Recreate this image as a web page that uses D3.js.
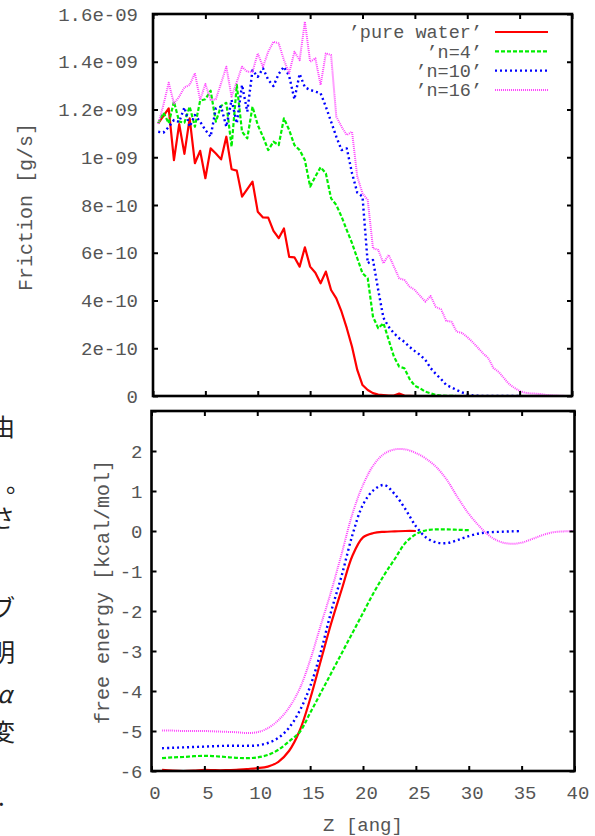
<!DOCTYPE html>
<html>
<head>
<meta charset="utf-8">
<script src="https://cdn.jsdelivr.net/npm/d3@7"></script>
<style>
  body { margin: 0; background: #fff; }
  svg { display: block; }
  .tick text { font-family: "Liberation Mono", "DejaVu Sans Mono", monospace; fill: #555; }
</style>
</head>
<body>
<svg id="chart" width="595" height="836"></svg>
<script>
// ---- data ----
var seriesNames = ["'pure water'", "'n=4'", "'n=10'", "'n=16'"];

// friction, z grid every 0.5 ang, values in 1e-10 g/s
var FRIC_UNIT = 1e-10;
var zFric = [0.5,1,1.5,2,2.5,3,3.5,4,4.5,5,5.5,6,6.5,7,7.5,8,8.5,9,9.5,10,
  10.5,11,11.5,12,12.5,13,13.5,14,14.5,15,15.5,16,16.5,17,17.5,18,18.5,19,19.5,20,
  20.5,21,21.5,22,22.5,23,23.5,24,24.5,25,25.5,26,26.5,27,27.5,28,28.5,29,29.5,30,
  30.5,31,31.5,32,32.5,33,33.5,34,34.5,35,35.5,36,36.5,37,37.5,38,38.5,39,39.5,40];

var fricWater = [11.42,11.73,12.05,9.88,11.39,10.14,11.63,9.75,10.27,9.12,
  10.37,10.16,9.91,10.86,9.50,9.44,8.35,8.67,8.98,7.72,
  7.48,7.47,6.92,6.61,7.02,5.83,5.81,5.42,6.23,5.42,
  5.16,4.72,5.21,4.44,4.09,3.53,2.84,2.06,1.09,0.46,
  0.25,0.12,0.06,0.04,0.02,0.02,0.10,0.02,0.01,0.00];
var fricN4 = [11.42,11.87,11.42,12.33,11.49,11.45,12.12,11.28,12.37,12.43,
  12.79,11.49,12.15,12.28,10.44,13.03,11.07,10.79,12.12,11.35,
  10.86,10.30,10.65,10.51,11.63,11.14,10.51,10.30,9.88,8.77,
  9.19,9.58,9.33,8.28,8.00,7.51,6.95,6.40,5.77,5.14,
  4.93,3.32,2.84,3.05,2.35,1.65,1.23,1.16,0.71,0.42,
  0.32,0.18,0.11,0.04,0.02,0.01,0.01,0,0,0];
var fricN10 = [11.07,11.03,11.27,11.56,11.48,12.09,11.28,11.77,11.49,11.14,
  10.86,12.05,12.12,11.28,12.40,11.42,13.03,11.91,13.65,13.37,
  13.73,13.24,12.98,13.49,13.79,13.40,12.43,13.49,12.93,12.82,
  12.75,12.68,12.12,11.49,10.86,10.30,10.37,9.33,8.52,8.35,
  5.56,5.70,4.44,3.27,2.90,2.63,2.42,2.27,2.05,1.88,
  1.72,1.51,1.17,0.92,0.71,0.46,0.36,0.25,0.15,0.08,
  0.02,0.01,0,0,0,0,0,0,0,0];
var fricN16 = [11.39,12.20,13.12,12.25,12.54,12.93,13.03,13.52,12.40,13.07,
  12.40,12.43,13.10,13.79,12.54,13.16,13.79,13.58,13.58,14.35,
  13.79,14.42,14.84,14.77,14.07,13.52,14.42,14.07,15.68,14.00,
  14.14,13.03,14.35,14.28,11.70,11.28,10.93,11.07,9.19,8.49,
  8.21,6.19,6.12,5.56,5.91,5.42,4.93,4.86,4.58,4.44,
  4.19,3.95,4.19,3.73,3.63,3.15,3.11,2.69,2.64,2.47,
  2.26,2.03,1.79,1.59,1.17,1.01,0.75,0.50,0.34,0.21,
  0.14,0.11,0.10,0.08,0.05,0.03,0.02,0.01,0,0];

// free energy [kcal/mol], z grid every 1 ang
var zEnergy = [1,2,3,4,5,6,7,8,9,10,11,12,13,14,15,16,17,18,19,20,
  21,22,23,24,25,26,27,28,29,30,31,32,33,34,35,36,37,38,39,40];
var energyWater = [-5.97,-5.99,-6.0,-5.99,-5.97,-5.98,-5.98,-5.97,-5.95,-5.93,
  -5.89,-5.77,-5.50,-5.0,-4.2,-3.25,-2.3,-1.45,-0.62,-0.16,
  -0.05,-0.02,-0.01,0,0];
var energyN4 = [-5.68,-5.66,-5.65,-5.63,-5.62,-5.63,-5.65,-5.67,-5.68,-5.66,
  -5.6,-5.47,-5.26,-5.03,-4.55,-4.05,-3.55,-3.05,-2.55,-2.05,
  -1.55,-1.1,-0.7,-0.3,-0.08,0.02,0.04,0.04,0.03,0.02];
var energyN10 = [-5.43,-5.42,-5.41,-5.40,-5.39,-5.38,-5.37,-5.37,-5.37,-5.36,
  -5.30,-5.17,-4.92,-4.5,-3.89,-3.03,-2.0,-1.1,-0.1,0.66,
  1.02,1.15,0.92,0.55,0.12,-0.17,-0.29,-0.3,-0.22,-0.13,
  -0.06,-0.03,-0.02,-0.01,0];
var energyN16 = [-4.99,-4.99,-5.0,-5.0,-5.0,-5.01,-5.02,-5.03,-5.05,-5.03,
  -4.93,-4.73,-4.42,-3.95,-3.23,-2.36,-1.5,-0.55,0.43,1.15,
  1.65,1.93,2.04,2.04,1.95,1.8,1.58,1.25,0.82,0.43,
  0.12,-0.13,-0.27,-0.32,-0.29,-0.2,-0.1,-0.03,-0.01,0];

// ticks
var zTicks = [0,5,10,15,20,25,30,35,40];
var fricTicks = [0,2e-10,4e-10,6e-10,8e-10,1e-9,1.2e-9,1.4e-9,1.6e-9];
var fricTickLabels = ["0","2e-10","4e-10","6e-10","8e-10","1e-09","1.2e-09","1.4e-09","1.6e-09"];
var energyTicks = [-6,-5,-4,-3,-2,-1,0,1,2,3];
var energyTickLabels = ["-6","-5","-4","-3","-2","-1","0","1","2",""];

// cut-off line ends of the page text at the left edge
var sideChars = ["由","。","さ","ブ","明","α","変","."];

// ---- styles ----
var lineStyles = [
  {color: "#ff0000", width: 2.2, dash: null},
  {color: "#00ee00", width: 2.2, dash: "4,2"},
  {color: "#0000ff", width: 2.4, dash: "2,3"},
  {color: "#ff44ff", width: 2, dash: "1,1"}
];
var MONO = "'Liberation Mono', 'DejaVu Sans Mono', monospace";

var svg = d3.select("#chart");

function drawPanel(opts) {
  var g = svg.append("g");
  var x = opts.x, y = opts.y;
  var x0 = x.range()[0], x1 = x.range()[1];
  var y0 = y.range()[0], y1 = y.range()[1];

  var clipId = "clip-" + opts.name;
  svg.append("clipPath").attr("id", clipId)
    .append("rect").attr("x", x0).attr("y", y1).attr("width", x1 - x0).attr("height", y0 - y1);

  // series
  var lines = g.append("g").attr("clip-path", "url(#" + clipId + ")");
  opts.series.forEach(function(vals, i) {
    var pts = vals.map(function(v, k) { return [opts.z[k], v]; });
    var line = d3.line()
      .x(function(d) { return x(d[0]); })
      .y(function(d) { return y(d[1] * (opts.unit || 1)); })
      .curve(opts.curve || d3.curveLinear);
    var st = lineStyles[i];
    lines.append("path")
      .attr("d", line(pts))
      .attr("fill", "none")
      .attr("stroke", st.color)
      .attr("stroke-width", st.width)
      .attr("stroke-dasharray", st.dash)
      .attr("stroke-linejoin", "round");
  });

  // ticks on all four sides, pointing inwards
  var left = d3.axisLeft(y).tickValues(opts.yTicks).tickSize(-5).tickPadding(opts.yPad)
    .tickFormat(function(d, i) { return opts.yLabels[i]; });
  var right = d3.axisRight(y).tickValues(opts.yTicks).tickSize(-5).tickFormat("");
  var bottom = d3.axisBottom(x).tickValues(zTicks).tickSize(-5).tickPadding(opts.xPad)
    .tickFormat(opts.xLabels ? d3.format("d") : "");
  var top = d3.axisTop(x).tickValues(zTicks).tickSize(-5).tickFormat("");

  [[left, "translate(" + x0 + ",0)"], [right, "translate(" + x1 + ",0)"],
   [bottom, "translate(0," + y0 + ")"], [top, "translate(0," + y1 + ")"]].forEach(function(a) {
    var ax = g.append("g").attr("transform", a[1]).call(a[0]);
    ax.select(".domain").remove();
    ax.selectAll("line").attr("stroke", "#000").attr("stroke-width", 2);
    ax.selectAll("text").style("font-size", "19px");
  });

  // frame
  g.append("rect")
    .attr("x", x0).attr("y", y1).attr("width", x1 - x0).attr("height", y0 - y1)
    .attr("fill", "none").attr("stroke", "#000").attr("stroke-width", 2.6);

  // y axis title
  g.append("text")
    .attr("transform", "translate(" + opts.titlePos[0] + "," + opts.titlePos[1] + ") rotate(-90)")
    .attr("text-anchor", "middle").attr("dy", "0.35em")
    .style("font-family", MONO).style("font-size", opts.titleSize + "px").style("fill", "#555")
    .text(opts.title);
  return g;
}

// top panel: friction
var xTop = d3.scaleLinear().domain([0, 40]).range([153, 572]);
var yTop = d3.scaleLinear().domain([0, 1.6e-9]).range([396, 14]);
var topPanel = drawPanel({
  name: "fric", x: xTop, y: yTop, z: zFric, unit: FRIC_UNIT,
  series: [fricWater, fricN4, fricN10, fricN16],
  yTicks: fricTicks, yLabels: fricTickLabels, yPad: 15, xPad: 8, xLabels: false,
  title: "Friction [g/s]", titlePos: [25, 207], titleSize: 20
});

// legend
var legend = topPanel.append("g");
seriesNames.forEach(function(name, i) {
  var yy = 32 + i * 19.3;
  var st = lineStyles[i];
  legend.append("text")
    .attr("x", 482).attr("y", yy).attr("dy", "0.35em").attr("text-anchor", "end")
    .style("font-family", MONO).style("font-size", "18.5px").style("fill", "#555")
    .text(name.replace(/'/g, "\u2019"));
  legend.append("line")
    .attr("x1", 495).attr("x2", 548).attr("y1", yy).attr("y2", yy)
    .attr("stroke", st.color).attr("stroke-width", st.width).attr("stroke-dasharray", st.dash);
});

// bottom panel: free energy
var xBot = d3.scaleLinear().domain([0, 40]).range([151.5, 574.5]);
var yBot = d3.scaleLinear().domain([-6, 3]).range([771, 411]);
var botPanel = drawPanel({
  name: "energy", x: xBot, y: yBot, z: zEnergy, curve: d3.curveCatmullRom.alpha(0.5),
  series: [energyWater, energyN4, energyN10, energyN16],
  yTicks: energyTicks, yLabels: energyTickLabels, yPad: 9, xPad: 15, xLabels: true,
  title: "free energy [kcal/mol]", titlePos: [102, 592], titleSize: 20
});
// x tick labels sit a little right of their ticks in the original
botPanel.selectAll(".tick text").filter(function() { return +this.getAttribute("y") > 0; })
  .attr("dx", 3);

svg.append("text")
  .attr("x", 363).attr("y", 831).attr("text-anchor", "middle")
  .style("font-family", MONO).style("font-size", "19px").style("fill", "#555")
  .text("Z [ang]");

// clipped text from the surrounding page
var sideY = [436, 492, 527, 617, 661, 703, 741, 806];
var sideX = [-9, 6, -9, -9, -9, -3, -9, -2];
svg.append("g").selectAll("text").data(sideChars).join("text")
  .attr("x", function(d, i) { return sideX[i]; })
  .attr("y", function(d, i) { return sideY[i]; })
  .style("font-family", "'Noto Sans CJK JP', sans-serif")
  .style("font-size", "24px").style("fill", "#222")
  .style("font-style", function(d) { return d === "α" ? "italic" : null; })
  .text(function(d) { return d; });
</script>
</body>
</html>
